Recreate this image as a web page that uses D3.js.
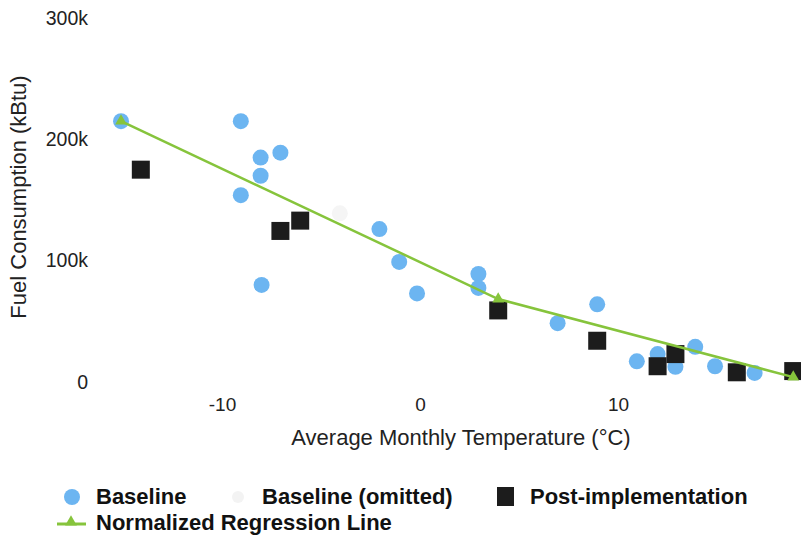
<!DOCTYPE html>
<html>
<head>
<meta charset="utf-8">
<script src="https://cdn.jsdelivr.net/npm/d3@7"></script>
<style>
  body{margin:0;background:#fff;}
  svg{display:block;font-family:"Liberation Sans",Arial,sans-serif;}
</style>
</head>
<body>
<div id="chart"></div>
<script>
// temperature in degC, consumption in kBtu (thousands)
var baselineTemp=[-15.1,-9.05,-8.05,-7.05,-8.05,-9.05,-8.0,-2.05,-1.05,-0.15,2.95,2.95,6.95,8.95,10.95,12.0,12.9,13.9,14.9,16.9];
var baselineFuel=[215,215,185,189,170,154,80,126,99,73,89,77.5,48.5,64,17,23,12.5,29,13,7.5];
var omittedTemp=[-4.05];
var omittedFuel=[139];
var postTemp=[-14.1,-7.05,-6.05,3.95,8.95,12.0,12.9,16.0,18.85];
var postFuel=[175,124.5,133,59,34,13,23,8,9];
var regTemp=[-15.1,3.95,18.85];
var regFuel=[215,68.4,4];
var yTicks=[0,100,200,300];
var xTicks=[-10,0,10];

var W=801,H=538;
var blue="#6cb5f1", green="#86c43c", dark="#1c1c1c";

var svg=d3.select("#chart").append("svg").attr("width",W).attr("height",H);

var x=d3.scaleLinear().domain([-16,20]).range([103.2,816]);
var y=d3.scaleLinear().domain([0,300]).range([382,18]);

// axes, no lines, only labels
var yAxis=svg.append("g").attr("transform","translate(88,0)")
  .call(d3.axisLeft(y).tickValues(yTicks).tickSize(0).tickPadding(0)
    .tickFormat(function(d){return d==0?"0":d+"k";}));
yAxis.select(".domain").remove();
yAxis.selectAll("text").attr("font-size",19.5).attr("fill","#222").attr("font-family","Liberation Sans, Arial, sans-serif");

var xAxis=svg.append("g").attr("transform","translate(0,397)")
  .call(d3.axisBottom(x).tickValues(xTicks).tickSize(0).tickPadding(0).tickFormat(String));
xAxis.select(".domain").remove();
xAxis.selectAll("text").attr("font-size",19).attr("fill","#222").attr("font-family","Liberation Sans, Arial, sans-serif");

svg.append("text").attr("transform","translate(26,197) rotate(-90)")
  .attr("text-anchor","middle").attr("font-size",22).attr("fill","#222")
  .text("Fuel Consumption (kBtu)");
svg.append("text").attr("x",461).attr("y",445)
  .attr("text-anchor","middle").attr("font-size",22).attr("fill","#222")
  .text("Average Monthly Temperature (°C)");

var baseline=d3.zip(baselineTemp,baselineFuel);
var omitted=d3.zip(omittedTemp,omittedFuel);
var post=d3.zip(postTemp,postFuel);
var reg=d3.zip(regTemp,regFuel);

svg.append("g").selectAll("circle").data(omitted).join("circle")
  .attr("cx",function(d){return x(d[0]);}).attr("cy",function(d){return y(d[1]);})
  .attr("r",8).attr("fill","#f5f5f5");

svg.append("g").selectAll("circle").data(baseline).join("circle")
  .attr("cx",function(d){return x(d[0]);}).attr("cy",function(d){return y(d[1]);})
  .attr("r",8).attr("fill",blue);

svg.append("g").selectAll("rect").data(post).join("rect")
  .attr("x",function(d){return x(d[0])-9;}).attr("y",function(d){return y(d[1])-9;})
  .attr("width",18).attr("height",18).attr("fill",dark);

var line=d3.line().x(function(d){return x(d[0]);}).y(function(d){return y(d[1]);});
svg.append("path").datum(reg).attr("d",line)
  .attr("fill","none").attr("stroke",green).attr("stroke-width",2.5);

var tri=d3.symbol().type(d3.symbolTriangle).size(60);
svg.append("g").selectAll("path").data(reg).join("path")
  .attr("transform",function(d){return "translate("+x(d[0])+","+y(d[1])+")";})
  .attr("d",tri).attr("fill",green);

// legend
var lg=svg.append("g").attr("font-size",22).attr("font-weight","bold").attr("fill","#111");
lg.append("circle").attr("cx",72).attr("cy",497).attr("r",8).attr("fill",blue);
lg.append("text").attr("x",96).attr("y",504).text("Baseline");
lg.append("circle").attr("cx",238).attr("cy",497).attr("r",6).attr("fill","#f3f3f3");
lg.append("text").attr("x",262).attr("y",504).text("Baseline (omitted)");
lg.append("rect").attr("x",497).attr("y",487).attr("width",17).attr("height",19).attr("fill",dark);
lg.append("text").attr("x",530).attr("y",504).text("Post-implementation");
lg.append("line").attr("x1",57).attr("x2",86).attr("y1",524).attr("y2",524)
  .attr("stroke",green).attr("stroke-width",3);
lg.append("path").attr("transform","translate(71,522)").attr("d",tri).attr("fill",green);
lg.append("text").attr("x",96).attr("y",530).text("Normalized Regression Line");
</script>
</body>
</html>
